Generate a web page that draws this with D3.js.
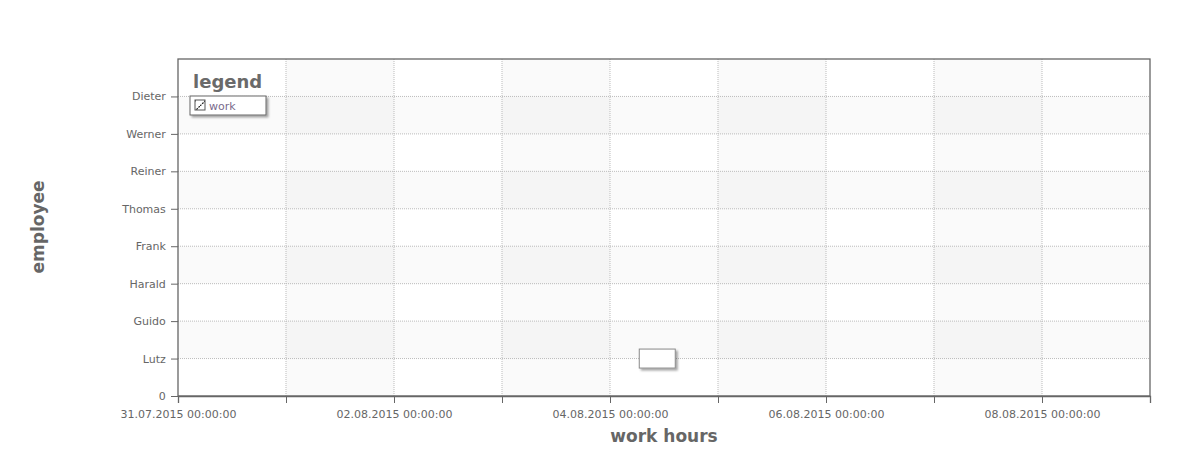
<!DOCTYPE html>
<html>
<head>
<meta charset="utf-8">
<script src="https://d3js.org/d3.v7.min.js"></script>
<style>
  body { margin: 0; background: #fff; }
  text { font-family: "DejaVu Sans", Verdana, sans-serif; }
</style>
</head>
<body>
<div id="chart"></div>
<script>
// employees from bottom (1) to top (8)
var employees = ["Lutz", "Guido", "Harald", "Frank", "Thomas", "Reiner", "Werner", "Dieter"];
// tasks: employee, start, end
var taskEmployee = ["Lutz"];
var taskStart = ["04.08.2015 06:30"];
var taskEnd = ["04.08.2015 14:30"];
var taskType = ["work"];
var xStart = "31.07.2015 00:00";
var xEnd = "09.08.2015 00:00";
var legendItems = ["work"];

var W = 1190, H = 469;
var margin = {top: 59, right: 40, bottom: 73, left: 178};
var iw = W - margin.left - margin.right,
    ih = H - margin.top - margin.bottom;

var parse = d3.timeParse("%d.%m.%Y %H:%M");
var fmt = d3.timeFormat("%d.%m.%Y %H:%M:%S");

var x = d3.scaleTime().domain([parse(xStart), parse(xEnd)]).range([0, iw]);
var y = d3.scaleLinear().domain([0, employees.length + 1]).range([ih, 0]);

var svg = d3.select("#chart").append("svg")
  .attr("width", W).attr("height", H);

var defs = svg.append("defs");
var shadow = defs.append("filter").attr("id", "shadow")
  .attr("x", "-20%").attr("y", "-20%").attr("width", "150%").attr("height", "170%");
shadow.append("feDropShadow").attr("dx", 2).attr("dy", 2)
  .attr("stdDeviation", 1.2).attr("flood-color", "#000").attr("flood-opacity", 0.35);

var hatch = defs.append("pattern").attr("id", "hatch")
  .attr("patternUnits", "userSpaceOnUse").attr("width", 10).attr("height", 10);
hatch.append("rect").attr("width", 10).attr("height", 10).attr("fill", "#fff");
hatch.append("line").attr("x1", 0).attr("y1", 10).attr("x2", 10).attr("y2", 0)
  .attr("stroke", "#222").attr("stroke-width", 1.2).attr("stroke-dasharray", "2,1");

var g = svg.append("g").attr("transform", "translate(" + margin.left + "," + margin.top + ")");

// alternating bands
var days = d3.timeDay.range(parse(xStart), parse(xEnd));
g.selectAll(".colband").data(days.filter(function(d, i){ return i % 2 == 1; }))
  .enter().append("rect")
  .attr("x", function(d){ return x(d); })
  .attr("y", 0)
  .attr("width", function(d){ return x(d3.timeDay.offset(d, 1)) - x(d); })
  .attr("height", ih)
  .attr("fill", "#000").attr("fill-opacity", 0.02);

var rows = d3.range(1, employees.length + 1, 2);
g.selectAll(".rowband").data(rows)
  .enter().append("rect")
  .attr("x", 0)
  .attr("y", function(d){ return y(d + 1); })
  .attr("width", iw)
  .attr("height", function(d){ return y(d) - y(d + 1); })
  .attr("fill", "#000").attr("fill-opacity", 0.02);

// grid
g.append("g").selectAll("line").data(days.slice(1))
  .enter().append("line")
  .attr("x1", function(d){ return x(d); }).attr("x2", function(d){ return x(d); })
  .attr("y1", 0).attr("y2", ih)
  .attr("stroke", "#bbb").attr("stroke-dasharray", "1,1");
g.append("g").selectAll("line").data(d3.range(1, employees.length + 1))
  .enter().append("line")
  .attr("x1", 0).attr("x2", iw)
  .attr("y1", function(d){ return y(d); }).attr("y2", function(d){ return y(d); })
  .attr("stroke", "#bbb").attr("stroke-dasharray", "1,1");

// frame
g.append("rect").attr("width", iw).attr("height", ih)
  .attr("fill", "none").attr("stroke", "#666").attr("stroke-width", 1.3);

// x axis
var xAxis = d3.axisBottom(x).ticks(d3.timeDay.every(1)).tickSizeOuter(0).tickSize(7)
  .tickFormat(function(d, i){ return i % 2 == 0 ? fmt(d) : ""; });
var gx = g.append("g").attr("transform", "translate(0," + ih + ")").call(xAxis);
gx.select(".domain").attr("stroke", "#666").attr("stroke-width", 1.3);
gx.selectAll(".tick line").attr("stroke", "#666");
gx.selectAll(".tick text").attr("fill", "#666").attr("font-size", 11)
  .attr("font-family", "DejaVu Sans Condensed, DejaVu Sans").attr("dy", "1.1em");

// y axis
var yAxis = d3.axisLeft(y).tickValues(d3.range(0, employees.length + 1)).tickSize(7)
  .tickFormat(function(d){ return d == 0 ? "0" : employees[d - 1]; });
var gy = g.append("g").call(yAxis);
gy.select(".domain").remove();
gy.selectAll(".tick line").attr("stroke", "#666");
gy.selectAll(".tick text").attr("fill", "#666").attr("font-size", 11)
  .attr("font-family", "DejaVu Sans Condensed, DejaVu Sans").attr("dx", "-0.2em");

// tasks
g.selectAll(".task").data(taskEmployee)
  .enter().append("rect")
  .attr("x", function(d, i){ return x(parse(taskStart[i])); })
  .attr("width", function(d, i){ return x(parse(taskEnd[i])) - x(parse(taskStart[i])); })
  .attr("y", function(d){ return y(employees.indexOf(d) + 1) - 9.5; })
  .attr("height", 19)
  .attr("fill", "#fff").attr("stroke", "#888").attr("stroke-width", 1)
  .attr("filter", "url(#shadow)");

// axis titles
svg.append("text").attr("x", margin.left + iw / 2).attr("y", 442)
  .attr("text-anchor", "middle").attr("font-size", 17).attr("font-weight", "bold")
  .attr("fill", "#666").text("work hours");
svg.append("text").attr("transform", "translate(44," + 227 + ") rotate(-90)")
  .attr("text-anchor", "middle").attr("font-size", 17).attr("font-weight", "bold")
  .attr("fill", "#666").text("employee");

// legend
var lg = svg.append("g").attr("transform", "translate(190,96)");
lg.append("text").attr("x", 3).attr("y", -8).attr("font-size", 18)
  .attr("font-weight", "bold").attr("fill", "#6a6a6a").text("legend");
lg.append("rect").attr("width", 76).attr("height", 19)
  .attr("fill", "#fff").attr("stroke", "#666").attr("filter", "url(#shadow)");
lg.selectAll(".item").data(legendItems).enter().append("g")
  .each(function(d){
    var s = d3.select(this);
    s.append("rect").attr("x", 5).attr("y", 4).attr("width", 10).attr("height", 10)
      .attr("fill", "url(#hatch)").attr("stroke", "#555");
    s.append("text").attr("x", 19).attr("y", 13.5).attr("font-size", 11)
      .attr("font-family", "DejaVu Sans Condensed, DejaVu Sans")
      .attr("fill", "#7a6a8c").text(d);
  });
</script>
</body>
</html>
